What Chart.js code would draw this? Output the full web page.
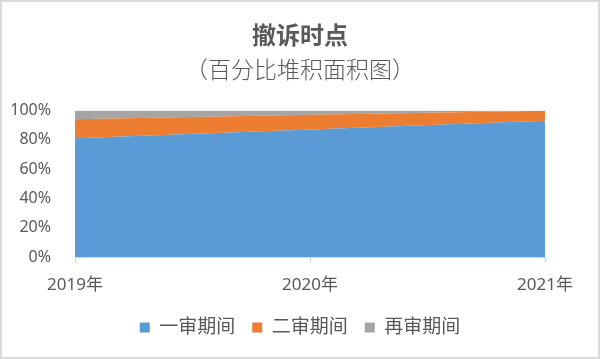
<!DOCTYPE html>
<html>
<head>
<meta charset="utf-8">
<script src="https://cdn.jsdelivr.net/npm/chart.js@4/dist/chart.umd.min.js"></script>
<style>
html,body{margin:0;padding:0;background:#fff;}
#wrap{width:600px;height:359px;position:relative;}
</style>
</head>
<body>
<div id="wrap"><canvas id="c" width="600" height="359"></canvas></div>
<script>
const categories = ['2019年', '2020年', '2021年'];
const firstInstance = [81, 87, 93];
const secondInstance = [13, 10, 6.7];
const retrial = [6, 3, 0.3];
const seriesNames = ['一审期间', '二审期间', '再审期间'];
const yTicks = [0, 20, 40, 60, 80, 100];

const FONT = '"Noto Sans", "Noto Sans CJK SC", sans-serif';
const TEXT = '#595959';

const borderPlugin = {
  id: 'frame',
  afterDraw(chart) {
    const ctx = chart.ctx;
    ctx.save();
    ctx.strokeStyle = '#d9d9d9';
    ctx.lineWidth = 2;
    ctx.strokeRect(1, 1, chart.width - 2, chart.height - 2);
    ctx.restore();
  }
};

new Chart(document.getElementById('c'), {
  type: 'line',
  data: {
    labels: categories,
    datasets: [
      { label: seriesNames[0], data: firstInstance, backgroundColor: '#5B9BD5', borderColor: '#5B9BD5', fill: 'origin' },
      { label: seriesNames[1], data: secondInstance, backgroundColor: '#ED7D31', borderColor: '#ED7D31', fill: '-1' },
      { label: seriesNames[2], data: retrial, backgroundColor: '#A5A5A5', borderColor: '#A5A5A5', fill: '-1' }
    ]
  },
  options: {
    responsive: false,
    animation: false,
    devicePixelRatio: 1,
    elements: { point: { radius: 0, hoverRadius: 0 }, line: { borderWidth: 0, tension: 0 } },
    layout: { padding: { left: 0, right: 0, top: 0, bottom: 12 } },
    plugins: {
      title: {
        display: true,
        text: '撤诉时点',
        color: TEXT,
        font: { family: FONT, size: 24, weight: 'bold' },
        padding: { top: 23, bottom: 0 }
      },
      subtitle: {
        display: true,
        text: '（百分比堆积面积图）',
        color: TEXT,
        font: { family: FONT, size: 23, weight: '300' },
        padding: { top: 6, bottom: 25 }
      },
      legend: {
        position: 'bottom',
        labels: {
          color: TEXT,
          font: { family: FONT, size: 19 },
          boxWidth: 10,
          boxHeight: 10,
          padding: 17
        }
      },
      tooltip: { enabled: false }
    },
    scales: {
      x: {
        offset: false,
        afterFit(axis) { axis.height = 44; },
        grid: { drawOnChartArea: false, drawTicks: true, tickLength: 6, color: '#d9d9d9' },
        border: { display: true, color: '#d9d9d9' },
        ticks: { color: TEXT, font: { family: FONT, size: 17 }, padding: 12, maxRotation: 0, autoSkip: false }
      },
      y: {
        stacked: true,
        min: 0,
        max: 100,
        afterBuildTicks(axis) { axis.ticks = yTicks.map(v => ({ value: v })); },
        afterFit(axis) { axis.width = 75; },
        grid: { display: false },
        border: { display: false },
        ticks: { color: TEXT, font: { family: FONT, size: 16 }, padding: 16, callback: v => v + '%' }
      },
      yRight: {
        position: 'right',
        display: true,
        min: 0,
        max: 100,
        afterFit(axis) { axis.width = 55; },
        grid: { display: false },
        border: { display: false },
        ticks: { display: false }
      }
    }
  },
  plugins: [borderPlugin]
});
</script>
</body>
</html>
